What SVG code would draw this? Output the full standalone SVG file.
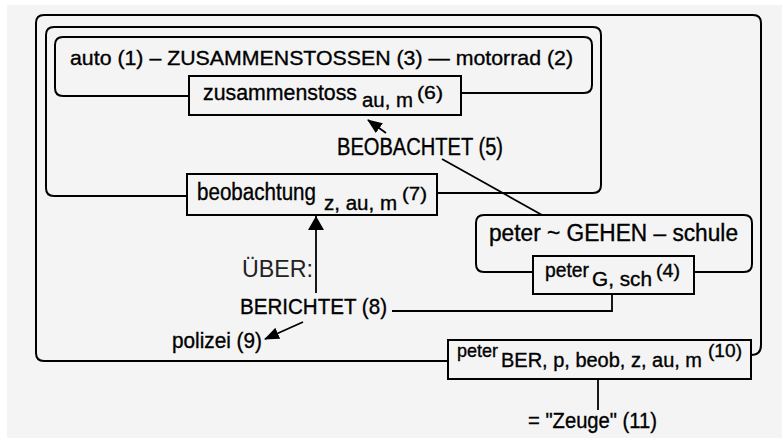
<svg xmlns="http://www.w3.org/2000/svg" width="782" height="439" viewBox="0 0 782 439">
<style>
.t{font-family:"Liberation Sans",Arial,sans-serif;fill:#000;stroke:#000;stroke-width:0.35}
.lt{font-family:"Liberation Sans",Arial,sans-serif;fill:#222}
.box{fill:none;stroke:#000;stroke-width:2}
.c{fill:none;stroke:#000;stroke-width:1.8}
</style>
<defs>
<marker id="ah" markerWidth="15" markerHeight="12" refX="14" refY="6" orient="auto" markerUnits="userSpaceOnUse"><path d="M0,0 L15,6 L0,12 z" fill="#000"/></marker>
<marker id="ahL" markerWidth="14" markerHeight="16" refX="14" refY="8" orient="auto" markerUnits="userSpaceOnUse"><path d="M0,0 L14,8 L0,16 z" fill="#000"/></marker>
</defs>
<rect x="0" y="0" width="782" height="439" fill="#ffffff"/>
<rect x="7" y="5" width="775" height="433" fill="#f4f4f4"/>

<g id="connectors">
<path class="box" d="M448,361 H44 Q36,361 36,353 V23 Q36,15 44,15 H753 Q761,15 761,23 V345 Q761,355 751,355"/>
<path class="box" d="M187,196 H54 Q46,196 46,188 V35 Q46,27 54,27 H593 Q601,27 601,35 V185 Q601,193 593,193 H437"/>
<path class="box" d="M189,96 H63 Q55,96 55,88 V45 Q55,37 63,37 H584 Q592,37 592,45 V85 Q592,93 584,93 H461"/>
<path class="box" d="M533,272 H484 Q476,272 476,264 V223 Q476,215 484,215 H744 Q752,215 752,223 V264 Q752,272 744,272 H694"/>
<line class="c" x1="386" y1="133" x2="368" y2="120" marker-end="url(#ah)"/>
<line class="c" x1="442" y1="159" x2="542" y2="215"/>
<line class="c" x1="316" y1="293" x2="316" y2="216" marker-end="url(#ahL)"/>
<path class="c" d="M392,311 H612 V294"/>
<line class="c" x1="303" y1="322" x2="265" y2="339" marker-end="url(#ah)"/>
<line class="c" x1="598" y1="379" x2="598" y2="410"/>
</g>

<g id="n-zusammenstossen">
<text class="t" x="70" y="65" font-size="21" textLength="503" lengthAdjust="spacingAndGlyphs">auto (1) – ZUSAMMENSTOSSEN (3) — motorrad (2)</text>
</g>

<g id="n-zusammenstoss">
<rect class="box" x="189" y="76" width="272" height="39"/>
<text class="t" x="203" y="100" font-size="22" textLength="154" lengthAdjust="spacingAndGlyphs">zusammenstoss</text>
<text class="t" x="362" y="107" font-size="20" textLength="51" lengthAdjust="spacingAndGlyphs">au, m</text>
<text class="t" x="417" y="99" font-size="19" textLength="26" lengthAdjust="spacingAndGlyphs">(6)</text>
</g>

<g id="n-beobachtet">
<text class="t" x="337" y="155" font-size="23" textLength="166" lengthAdjust="spacingAndGlyphs">BEOBACHTET (5)</text>
</g>

<g id="n-beobachtung">
<rect class="box" x="187" y="174" width="250" height="41"/>
<text class="t" x="197" y="200" font-size="23" textLength="119" lengthAdjust="spacingAndGlyphs">beobachtung</text>
<text class="t" x="324" y="210" font-size="20" textLength="73" lengthAdjust="spacingAndGlyphs">z, au, m</text>
<text class="t" x="402" y="200" font-size="19" textLength="25" lengthAdjust="spacingAndGlyphs">(7)</text>
</g>

<g id="n-gehen">
<text class="t" x="489" y="241" font-size="23" textLength="249" lengthAdjust="spacingAndGlyphs">peter ~ GEHEN – schule</text>
</g>

<g id="n-peterG">
<rect class="box" x="533" y="256" width="161" height="38"/>
<text class="t" x="545" y="277" font-size="20" textLength="44" lengthAdjust="spacingAndGlyphs">peter</text>
<text class="t" x="592" y="286" font-size="20" textLength="60" lengthAdjust="spacingAndGlyphs">G, sch</text>
<text class="t" x="656" y="277" font-size="18" textLength="24" lengthAdjust="spacingAndGlyphs">(4)</text>
</g>

<g id="n-ueber">
<text class="lt" x="242" y="277" font-size="23" textLength="71" lengthAdjust="spacingAndGlyphs">ÜBER:</text>
</g>

<g id="n-berichtet">
<text class="t" x="240" y="314" font-size="22" textLength="147" lengthAdjust="spacingAndGlyphs">BERICHTET (8)</text>
</g>

<g id="n-polizei">
<text class="t" x="172" y="348" font-size="22" textLength="90" lengthAdjust="spacingAndGlyphs">polizei (9)</text>
</g>

<g id="n-peterBER">
<rect class="box" x="448" y="340" width="303" height="39"/>
<text class="t" x="457" y="357" font-size="19" textLength="41" lengthAdjust="spacingAndGlyphs">peter</text>
<text class="t" x="501" y="367" font-size="20" textLength="201" lengthAdjust="spacingAndGlyphs">BER, p, beob, z, au, m</text>
<text class="t" x="708" y="357" font-size="19" textLength="34" lengthAdjust="spacingAndGlyphs">(10)</text>
</g>

<g id="n-zeuge">
<text class="t" x="528" y="428" font-size="22" textLength="129" lengthAdjust="spacingAndGlyphs">= "Zeuge" (11)</text>
</g>
</svg>
